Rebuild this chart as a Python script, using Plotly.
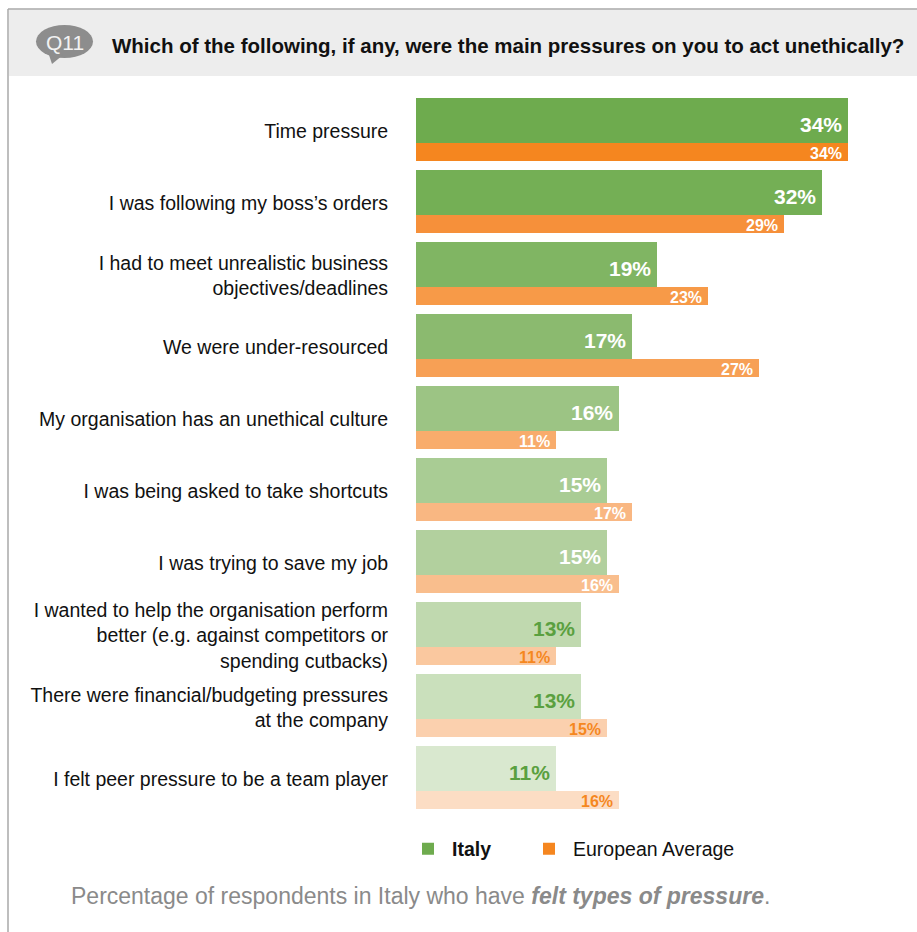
import plotly.graph_objects as go

# Survey answers (percent of respondents)
categories = [
    "Time pressure",
    "I was following my boss’s orders",
    "I had to meet unrealistic business<br>objectives/deadlines",
    "We were under-resourced",
    "My organisation has an unethical culture",
    "I was being asked to take shortcuts",
    "I was trying to save my job",
    "I wanted to help the organisation perform<br>better (e.g. against competitors or<br>spending cutbacks)",
    "There were financial/budgeting pressures<br>at the company",
    "I felt peer pressure to be a team player",
]
italy = [34, 32, 19, 17, 16, 15, 15, 13, 13, 11]
europe = [34, 29, 23, 27, 11, 17, 16, 11, 15, 16]

series_names = ["<b>Italy</b>", "European Average"]
question = "Which of the following, if any, were the main pressures on you to act unethically?"
question_tag = "Q11"

# Colour ramps, darkest row first
green_shades = ["#6EAB4E", "#74AF55", "#80B563", "#8BBA6F", "#9CC484",
                "#A9CC94", "#B2D09E", "#C0D9AF", "#CAE0BC", "#D9E8CF"]
orange_shades = ["#F5861F", "#F6903A", "#F79A48", "#F7A055", "#F8AC6C",
                 "#F9B782", "#F9BE8D", "#FAC89F", "#FBD0AE", "#FCDDC4"]
green_text = ["white"] * 7 + ["#5AA040"] * 3
orange_text = ["white"] * 7 + ["#F5871F"] * 3

W, H = 917, 932
SANS = "Liberation Sans, Arial, Helvetica, sans-serif"

# Geometry (pixels): row pitch and bar thicknesses
TOP, PITCH = 98, 72
G_H, O_H = 45, 18
X0, PX_PER_PCT = 416, 12.7

def row_units(px):
    return px / PITCH

n = len(categories)
g_pos = [i + row_units(G_H / 2) for i in range(n)]
o_pos = [i + row_units(G_H + O_H / 2) for i in range(n)]
tick_pos = [i + row_units((G_H + O_H) / 2 + 2) for i in range(n)]

fig = go.Figure()
fig.add_trace(go.Bar(
    y=g_pos, x=italy, orientation="h", width=row_units(G_H),
    marker=dict(color=green_shades, line=dict(width=0)),
    name=series_names[0], hoverinfo="x", legend="legend",
))
fig.add_trace(go.Bar(
    y=o_pos, x=europe, orientation="h", width=row_units(O_H),
    marker=dict(color=orange_shades, line=dict(width=0)),
    name=series_names[1], hoverinfo="x", legend="legend2",
))

annotations = []
for i in range(n):
    annotations.append(dict(
        x=italy[i], y=g_pos[i] + row_units(4), xref="x", yref="y",
        text=f"<b>{italy[i]}%</b>", showarrow=False, xanchor="right", yanchor="middle",
        xshift=-4, font=dict(family=SANS, size=21, color=green_text[i]),
    ))
    annotations.append(dict(
        x=europe[i], y=o_pos[i] + row_units(1), xref="x", yref="y",
        text=f"<b>{europe[i]}%</b>", showarrow=False, xanchor="right", yanchor="middle",
        xshift=-4, font=dict(family=SANS, size=16, color=orange_text[i]),
    ))

def px(x):
    return x / W

def py(y):
    return 1 - y / H

# Header question and footnote
annotations.append(dict(
    x=px(110), y=py(45), xref="paper", yref="paper", xanchor="left", yanchor="middle",
    text=f"<b>{question}</b>", showarrow=False,
    font=dict(family=SANS, size=20.5, color="#111111"),
))
annotations.append(dict(
    x=px(64.5), y=py(42), xref="paper", yref="paper", xanchor="center", yanchor="middle",
    text=question_tag, showarrow=False,
    font=dict(family=SANS, size=21, color="#F2F2F2"),
))
annotations.append(dict(
    x=px(69), y=py(896), xref="paper", yref="paper", xanchor="left", yanchor="middle",
    text="Percentage of respondents in Italy who have <b><i>felt types of pressure</i></b>.",
    showarrow=False, font=dict(family=SANS, size=23, color="#8A8A8A"),
))

shapes = [
    # header band
    dict(type="rect", xref="paper", yref="paper", x0=px(9), x1=px(W), y0=py(76), y1=py(9.5),
         fillcolor="#EDEDED", line=dict(width=0), layer="below"),
    # frame lines
    dict(type="line", xref="paper", yref="paper", x0=px(8), x1=px(W), y0=py(9), y1=py(9),
         line=dict(color="#A8A8A8", width=1.5)),
    dict(type="line", xref="paper", yref="paper", x0=px(8), x1=px(8), y0=py(9), y1=py(H),
         line=dict(color="#A8A8A8", width=1.5)),
    # speech bubble
    dict(type="circle", xref="paper", yref="paper", x0=px(36), x1=px(93), y0=py(58), y1=py(25),
         fillcolor="#8D8D8D", line=dict(width=0)),
    dict(type="path", xref="paper", yref="paper",
         path=f"M {px(48)},{py(52)} L {px(52)},{py(64)} L {px(63)},{py(55)} Z",
         fillcolor="#8D8D8D", line=dict(width=0)),
]

legend_style = dict(
    orientation="h", xanchor="left", yanchor="middle", y=py(849),
    font=dict(family=SANS, size=19.5, color="#111111"),
    itemwidth=38, bgcolor="rgba(0,0,0,0)",
)

fig.update_layout(
    width=W, height=H,
    margin=dict(l=0, r=0, t=0, b=0),
    paper_bgcolor="white", plot_bgcolor="white",
    barmode="overlay", bargap=0,
    showlegend=True,
    legend=dict(x=px(404), **legend_style),
    legend2=dict(x=px(525), **legend_style),
    xaxis=dict(
        domain=[px(X0), 1], range=[0, (W - X0) / PX_PER_PCT],
        showgrid=False, zeroline=False, showline=False, showticklabels=False, fixedrange=True,
    ),
    yaxis=dict(
        domain=[0, 1], range=[row_units(H - TOP), row_units(-TOP)],
        tickmode="array", tickvals=tick_pos, ticktext=categories,
        ticks="outside", ticklen=23, tickcolor="rgba(0,0,0,0)",
        tickfont=dict(family=SANS, size=19.5, color="#111111"),
        showgrid=False, zeroline=False, showline=False, fixedrange=True,
    ),
    annotations=annotations,
    shapes=shapes,
)

fig.write_html("out.html")
